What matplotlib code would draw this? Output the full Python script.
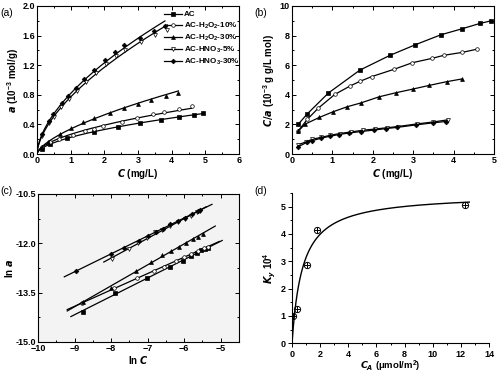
import numpy as np
import matplotlib
matplotlib.use("Agg")
import matplotlib.pyplot as plt
from matplotlib.ticker import MultipleLocator, FormatStrFormatter

plt.rcParams["font.family"] = ["Liberation Sans", "DejaVu Sans"]
plt.rcParams["font.weight"] = "bold"
plt.rcParams["axes.labelweight"] = "bold"
plt.rcParams["mathtext.default"] = "regular"

# ── series names / markers ──────────────────────────────────────────────────
labels = ["AC", "AC-H$_2$O$_2$-10%", "AC-H$_2$O$_2$-30%",
          "AC-HNO$_3$-5%", "AC-HNO$_3$-30%"]

# ── (a) adsorption isotherms: C (mg/L) vs a (10^-3 mol/g) ──────────────────
a_c = [
    [0.15, 0.38, 0.90, 1.68, 2.42, 3.05, 3.68, 4.22, 4.65, 4.93],
    [0.15, 0.38, 0.65, 1.06, 1.44, 1.68, 1.97, 2.52, 2.98, 3.46, 3.76, 4.22, 4.59],
    [0.15, 0.33, 0.68, 1.02, 1.37, 1.70, 2.16, 2.57, 2.99, 3.40, 3.83, 4.20],
    [0.15, 0.35, 0.50, 0.72, 0.95, 1.18, 1.45, 1.75, 2.05, 2.35, 2.62, 3.10, 3.50, 3.87],
    [0.16, 0.37, 0.49, 0.73, 0.93, 1.16, 1.40, 1.70, 2.02, 2.32, 2.59, 3.07, 3.49, 3.80],
]
a_val = [
    [0.075, 0.14, 0.22, 0.30, 0.365, 0.415, 0.46, 0.50, 0.53, 0.55],
    [0.097, 0.16, 0.21, 0.263, 0.313, 0.342, 0.377, 0.44, 0.483, 0.536, 0.564, 0.614, 0.648],
    [0.097, 0.163, 0.274, 0.357, 0.428, 0.493, 0.558, 0.621, 0.681, 0.733, 0.783, 0.828],
    [0.24, 0.42, 0.50, 0.64, 0.75, 0.85, 0.97, 1.09, 1.21, 1.32, 1.41, 1.52, 1.61, 1.67],
    [0.275, 0.45, 0.54, 0.69, 0.78, 0.89, 1.01, 1.13, 1.27, 1.38, 1.47, 1.57, 1.66, 1.73],
]

# ── (b) C/a (10^-3 g g/L mol) ────────────────────────────────────────────────
b_val = [
    [2.0, 2.72, 4.12, 5.67, 6.66, 7.38, 8.05, 8.47, 8.82, 9.0],
    [1.55, 2.35, 3.1, 4.03, 4.6, 4.91, 5.23, 5.72, 6.17, 6.46, 6.67, 6.87, 7.09],
    [1.55, 2.03, 2.48, 2.86, 3.2, 3.45, 3.87, 4.14, 4.39, 4.64, 4.89, 5.07],
    [0.63, 0.83, 1.0, 1.13, 1.27, 1.39, 1.49, 1.61, 1.69, 1.78, 1.86, 2.04, 2.17, 2.32],
    [0.5, 0.8, 0.9, 1.08, 1.2, 1.32, 1.42, 1.52, 1.62, 1.72, 1.8, 1.97, 2.11, 2.2],
]

# ── (c) ln a vs ln C ─────────────────────────────────────────────────────────
c_x = [
    [-8.77, -7.89, -7.03, -6.38, -6.03, -5.80, -5.64, -5.53, -5.42, -5.35],
    [-8.80, -7.92, -7.30, -6.83, -6.56, -6.23, -6.00, -5.81, -5.63, -5.47, -5.35],
    [-8.78, -8.01, -7.33, -6.90, -6.60, -6.36, -6.14, -5.94, -5.77, -5.63, -5.48],
    [-7.97, -7.51, -7.26, -7.03, -6.80, -6.62, -6.39, -6.18, -5.98, -5.82, -5.64, -5.57],
    [-8.96, -8.00, -7.65, -7.23, -7.00, -6.78, -6.58, -6.40, -6.18, -5.97, -5.78, -5.62, -5.56],
]
c_y = [
    [-14.08, -13.50, -13.05, -12.73, -12.54, -12.40, -12.30, -12.22, -12.16, -12.13],
    [-13.82, -13.37, -13.06, -12.84, -12.71, -12.55, -12.43, -12.33, -12.23, -12.15, -12.10],
    [-13.80, -13.35, -12.84, -12.56, -12.35, -12.23, -12.10, -12.00, -11.87, -11.81, -11.72],
    [-12.48, -12.18, -12.00, -11.85, -11.67, -11.59, -11.47, -11.34, -11.27, -11.17, -11.04, -11.02],
    [-12.83, -12.33, -12.13, -11.92, -11.78, -11.67, -11.57, -11.41, -11.32, -11.23, -11.11, -11.02, -10.99],
]
c_fit_range = [(-9.1, -4.96), (-9.2, -5.04), (-9.2, -5.15), (-8.2, -5.4), (-9.28, -5.24)]

# ── (d) K vs C_A ─────────────────────────────────────────────────────────────
d_x = [0.1, 0.35, 1.05, 1.75, 12.3]
d_y = [1.0, 1.25, 2.87, 4.13, 5.07]
d_kmax, d_b = 5.47, 1.35  # Langmuir-type fit

markers = ["s", "o", "^", "v", "D"]
filled = [True, False, True, False, True]
msize = [2.4, 2.6, 2.8, 2.8, 2.4]


def mstyle(i):
    return dict(marker=markers[i], markersize=msize[i],
                markerfacecolor="black" if filled[i] else "white",
                markeredgecolor="black", markeredgewidth=0.5)


def style_axes(ax, fs=6.5, direction="in", mirror=True):
    ax.tick_params(which="both", direction=direction, labelsize=fs,
                   top=mirror, right=mirror, width=0.7, pad=1.5)
    ax.tick_params(which="major", length=3)
    ax.tick_params(which="minor", length=1.6)
    for lbl in ax.get_xticklabels() + ax.get_yticklabels():
        lbl.set_fontweight("bold")
    for sp in ax.spines.values():
        sp.set_linewidth(0.8)


fig = plt.figure(figsize=(5.0, 3.74), dpi=100)
ax_a = fig.add_axes([0.074, 0.588, 0.404, 0.396])
ax_b = fig.add_axes([0.584, 0.588, 0.404, 0.396])
ax_c = fig.add_axes([0.076, 0.0856, 0.402, 0.396])
ax_d = fig.add_axes([0.584, 0.082, 0.394, 0.402])

# ── (a) ──────────────────────────────────────────────────────────────────────
for i in range(5):
    c = np.array(a_c[i])
    a = np.array(a_val[i])
    n, lnk = np.polyfit(np.log(c), np.log(a), 1)
    xf = np.linspace(0, c.max(), 200)
    ax_a.plot(xf, np.exp(lnk) * xf ** n, color="black", lw=0.9)
    ax_a.plot(c, a, ls="none", **mstyle(i))
    ax_a.plot([], [], color="black", lw=0.9, label=labels[i], **mstyle(i))
ax_a.set_xlim(0, 6)
ax_a.set_ylim(0, 2.0)
ax_a.xaxis.set_major_locator(MultipleLocator(1))
ax_a.xaxis.set_minor_locator(MultipleLocator(0.5))
ax_a.yaxis.set_major_locator(MultipleLocator(0.4))
ax_a.yaxis.set_minor_locator(MultipleLocator(0.2))
ax_a.yaxis.set_major_formatter(FormatStrFormatter("%.1f"))
ax_a.set_xlabel("$\\it{C}$ (mg/L)", fontsize=7, labelpad=1)
ax_a.set_ylabel("$\\it{a}$ (10$^{-3}$ mol/g)", fontsize=7, labelpad=1)
style_axes(ax_a)
leg = ax_a.legend(loc="upper right", bbox_to_anchor=(1.03, 1.0), frameon=False,
                  fontsize=5.8, handlelength=2.2, handletextpad=0.3,
                  labelspacing=0.25, borderaxespad=0.2)
for t in leg.get_texts():
    t.set_fontweight("bold")

# ── (b) ──────────────────────────────────────────────────────────────────────
for i in range(5):
    ax_b.plot(a_c[i], b_val[i], color="black", lw=0.9, **mstyle(i))
ax_b.set_xlim(0, 5)
ax_b.set_ylim(0, 10)
ax_b.xaxis.set_major_locator(MultipleLocator(1))
ax_b.xaxis.set_minor_locator(MultipleLocator(0.5))
ax_b.yaxis.set_major_locator(MultipleLocator(2))
ax_b.yaxis.set_minor_locator(MultipleLocator(1))
ax_b.set_xlabel("$\\it{C}$ (mg/L)", fontsize=7, labelpad=1)
ax_b.set_ylabel("$\\it{C/a}$ (10$^{-3}$ g g/L mol)", fontsize=7, labelpad=2)
style_axes(ax_b)

# ── (c) ──────────────────────────────────────────────────────────────────────
ax_c.set_facecolor("#f3f3f3")
for i in range(5):
    x = np.array(c_x[i])
    y = np.array(c_y[i])
    k, b0 = np.polyfit(x, y, 1)
    xf = np.linspace(*c_fit_range[i], 50)
    ax_c.plot(xf, k * xf + b0, color="black", lw=0.9)
    ax_c.plot(x, y, ls="none", **mstyle(i))
ax_c.set_xlim(-10, -4.5)
ax_c.set_ylim(-15, -10.5)
ax_c.xaxis.set_major_locator(MultipleLocator(1))
ax_c.xaxis.set_minor_locator(MultipleLocator(0.5))
ax_c.set_yticks([-10.5, -12.0, -13.5, -15.0])
ax_c.yaxis.set_minor_locator(MultipleLocator(0.75))
ax_c.yaxis.set_major_formatter(FormatStrFormatter("%.1f"))
ax_c.set_xlabel("ln $\\it{C}$", fontsize=7, labelpad=0.5)
ax_c.set_ylabel("ln $\\it{a}$", fontsize=7, labelpad=0.5)
style_axes(ax_c)

# ── (d) ──────────────────────────────────────────────────────────────────────
xf = np.linspace(0, 12.6, 400)
ax_d.plot(xf, d_kmax * d_b * xf / (1 + d_b * xf), color="black", lw=1.0)
ax_d.plot(d_x, d_y, ls="none", marker="o", markersize=4.5,
          markerfacecolor="none", markeredgecolor="black", markeredgewidth=0.7)
ax_d.plot(d_x, d_y, ls="none", marker="+", markersize=5,
          markeredgecolor="black", markeredgewidth=0.7)
ax_d.set_xlim(0, 14)
ax_d.set_ylim(0, 5.5)
ax_d.xaxis.set_major_locator(MultipleLocator(2))
ax_d.xaxis.set_minor_locator(MultipleLocator(1))
ax_d.yaxis.set_major_locator(MultipleLocator(1))
ax_d.yaxis.set_minor_locator(MultipleLocator(0.5))
ax_d.spines["top"].set_visible(False)
ax_d.spines["right"].set_visible(False)
ax_d.set_xlabel("$\\it{C}_A$ (\u03bcmol/m$^2$)", fontsize=6.8, labelpad=0)
ax_d.set_ylabel("$\\it{K}_y$ 10$^4$", fontsize=7, labelpad=2)
style_axes(ax_d, direction="out", mirror=False)

# ── panel letters ────────────────────────────────────────────────────────────
for x, y, s in [(0.0, 0.965, "(a)"), (0.508, 0.965, "(b)"),
                (0.0, 0.49, "(c)"), (0.508, 0.49, "(d)")]:
    fig.text(x, y, s, fontsize=7.5, fontweight="normal", va="center")

fig.savefig("out.png", dpi=100)
